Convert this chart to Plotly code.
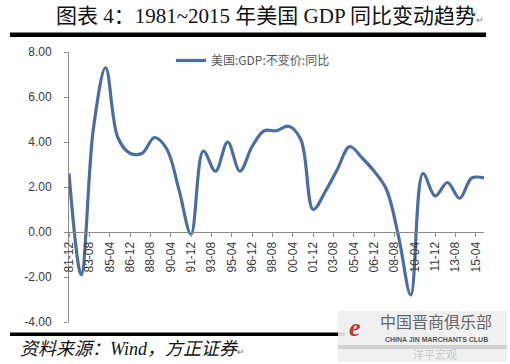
import plotly.graph_objects as go

# ---- data (annual, year-end) ----
years = list(range(1981, 2016))
gdp_yoy = [2.6, -1.9, 4.6, 7.3, 4.2, 3.5, 3.5, 4.2, 3.7, 1.9,
           -0.1, 3.6, 2.7, 4.0, 2.7, 3.8, 4.5, 4.5, 4.7, 4.1,
           1.0, 1.8, 2.8, 3.8, 3.3, 2.7, 1.9, -0.2, -2.8, 2.6,
           1.6, 2.2, 1.5, 2.4, 2.4]
dates = [f"{y}-12-01" for y in years]
series_name = "美国:GDP:不变价:同比"
y_tickvals = [-4, -2, 0, 2, 4, 6, 8]
y_ticktext = ["-4.00", "-2.00", "0.00", "2.00", "4.00", "6.00", "8.00"]
title_text = "图表 4：1981~2015 年美国 GDP 同比变动趋势"
source_text = "资料来源：Wind，方正证券"

W, H = 510, 364
ML, MR, MT, MB = 69, 26, 52, 42
PW, PH = W - ML - MR, H - MT - MB


def px(x):
    return (x - ML) / PW


def py(y):
    return (H - MB - y) / PH


fig = go.Figure()
fig.add_trace(go.Scatter(
    x=dates, y=gdp_yoy, mode="lines", name=series_name,
    line=dict(color="#4a6f9f", width=3.2, shape="spline", smoothing=1.0),
))

axis_color = "#8c8c8c"
tick_font = dict(family="Liberation Sans, Arial, sans-serif", size=12, color="#3a3a3a")

fig.update_layout(
    width=W, height=H,
    margin=dict(l=ML, r=MR, t=MT, b=MB, autoexpand=False),
    paper_bgcolor="white", plot_bgcolor="white",
    showlegend=True,
    legend=dict(x=px(171), y=py(46), xanchor="left", yanchor="top",
                bgcolor="rgba(0,0,0,0)",
                font=dict(family="Noto Sans CJK SC", size=12, color="#555555")),
    xaxis=dict(
        type="date", range=["1981-12-01", "2015-12-01"],
        tick0="1981-12-01", dtick="M20", tickformat="%y-%m",
        tickangle=-90, showgrid=False, zeroline=False,
        showline=True, linecolor=axis_color, linewidth=1,
        ticks="outside", ticklen=4, tickcolor=axis_color,
        anchor="free", position=1/3, automargin=False,
        tickfont=tick_font,
    ),
    yaxis=dict(
        range=[-4, 8], tickvals=y_tickvals, ticktext=y_ticktext,
        showgrid=False, zeroline=False, automargin=False,
        showline=True, linecolor=axis_color, linewidth=1,
        ticks="outside", ticklen=4, tickcolor=axis_color,
        ticklabelstandoff=10,
        tickfont=tick_font,
    ),
)

shapes = []
# top and bottom heavy rules
shapes.append(dict(type="rect", xref="paper", yref="paper",
                   x0=px(10), x1=px(486), y0=py(37), y1=py(32.5),
                   fillcolor="black", line=dict(width=0), layer="above"))
shapes.append(dict(type="rect", xref="paper", yref="paper",
                   x0=px(10), x1=px(345), y0=py(336), y1=py(332.5),
                   fillcolor="black", line=dict(width=0), layer="above"))
# watermark logo backdrop
shapes.append(dict(type="rect", xref="paper", yref="paper",
                   x0=px(338), x1=px(507), y0=py(362), y1=py(311),
                   fillcolor="rgba(238,238,238,0.9)", line=dict(width=0), layer="above"))
shapes.append(dict(type="rect", xref="paper", yref="paper",
                   x0=px(338), x1=px(507), y0=py(349), y1=py(345),
                   fillcolor="rgba(205,205,205,0.9)", line=dict(width=0), layer="above"))
fig.update_layout(shapes=shapes)

ann = []
ann.append(dict(text=title_text + "<span style='font-size:9px;color:#777'>↵</span>",
                x=px(270), y=py(16), xref="paper", yref="paper",
                xanchor="center", yanchor="middle", showarrow=False,
                font=dict(family="Liberation Serif, Noto Sans CJK SC", size=21, color="#111111")))
ann.append(dict(text="<i>" + source_text + "</i><span style='font-size:9px;color:#777'>↵</span>",
                x=px(18), y=py(349), xref="paper", yref="paper",
                xanchor="left", yanchor="middle", showarrow=False,
                font=dict(family="Liberation Serif, Noto Sans CJK SC", size=18, color="#111111")))
# logo texts
ann.append(dict(text="<i><b>e</b></i>", x=px(355), y=py(327), xref="paper", yref="paper",
                xanchor="center", yanchor="middle", showarrow=False,
                font=dict(family="Liberation Serif", size=26, color="#c0392b")))
ann.append(dict(text="中国晋商俱乐部", x=px(436), y=py(321), xref="paper", yref="paper",
                xanchor="center", yanchor="middle", showarrow=False,
                font=dict(family="Noto Sans CJK SC", size=16, color="#666666")))
ann.append(dict(text="<b>CHINA JIN MARCHANTS CLUB</b>", x=px(436), y=py(339), xref="paper", yref="paper",
                xanchor="center", yanchor="middle", showarrow=False,
                font=dict(family="Liberation Sans", size=7, color="#555555")))
ann.append(dict(text="洋平宏观", x=px(435), y=py(354), xref="paper", yref="paper",
                xanchor="center", yanchor="middle", showarrow=False,
                font=dict(family="Noto Sans CJK SC", size=11, color="#c8c8c8")))
fig.update_layout(annotations=ann)

fig.write_html(
    "out.html",
    config={"displayModeBar": False},
    post_script="document.body.style.margin='0';document.body.style.padding='0';"
                "document.documentElement.style.overflow='hidden';",
)
